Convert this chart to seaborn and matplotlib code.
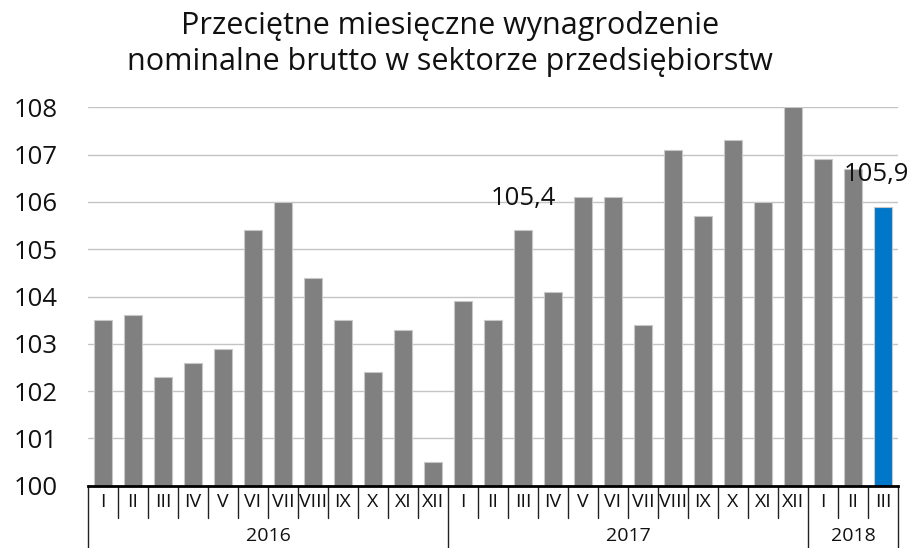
import matplotlib
matplotlib.use("Agg")
import matplotlib.pyplot as plt
import matplotlib.transforms as mtransforms
import seaborn as sns
import pandas as pd

years = ["2016", "2017", "2018"]
months_per_year = [12, 12, 3]
month_labels = ["I", "II", "III", "IV", "V", "VI", "VII", "VIII", "IX", "X", "XI", "XII",
                "I", "II", "III", "IV", "V", "VI", "VII", "VIII", "IX", "X", "XI", "XII",
                "I", "II", "III"]
values = [103.5, 103.6, 102.3, 102.6, 102.9, 105.4, 106.0, 104.4, 103.5, 102.4, 103.3, 100.5,
          103.9, 103.5, 105.4, 104.1, 106.1, 106.1, 103.4, 107.1, 105.7, 107.3, 106.0, 108.0,
          106.9, 106.7, 105.9]
annotated = {14: "105,4", 26: "105,9"}
title = "Przeciętne miesięczne wynagrodzenie\nnominalne brutto w sektorze przedsiębiorstw"

year_of = []
for y, n in zip(years, months_per_year):
    year_of += [y] * n
keys = [f"{y}-{m}" for y, m in zip(year_of, month_labels)]
colors = ["#808080"] * (len(values) - 1) + ["#0077C8"]
df = pd.DataFrame({"key": keys, "value": values})

sns.set_theme(style="white")
plt.rcParams["font.family"] = ["Open Sans", "DejaVu Sans"]

fig = plt.figure(figsize=(9.12, 5.48), dpi=100)
ax = fig.add_axes([88 / 912, 1 - 485.7 / 548, (898 - 88) / 912, (485.7 - 107.3) / 548])

sns.barplot(data=df, x="key", y="value", hue="key", palette=colors, legend=False,
            order=keys, width=0.63, ax=ax, edgecolor="#c8c8c8", linewidth=0.8,
            saturation=1, zorder=3)

ax.set_ylim(100, 108)
ax.set_xlim(-0.5, len(values) - 0.5)
ax.set_yticks(range(100, 109))
ax.yaxis.grid(True, color="#c4c4c4", linewidth=1.0, zorder=0)
ax.set_axisbelow(True)
ax.tick_params(axis="y", length=0, pad=22, labelsize=18.5, labelcolor="#111111")
ax.set_xticks([])
ax.set_xlabel("")
ax.set_ylabel("")
for s in ["top", "right", "left"]:
    ax.spines[s].set_visible(False)
ax.spines["bottom"].set_color("black")
ax.spines["bottom"].set_linewidth(2)
ax.spines["bottom"].set_zorder(5)

# annotations
shifts = {14: 0, 26: -5}
for i, txt in annotated.items():
    ax.annotate(txt, (i, values[i]), xytext=(shifts[i], 14), textcoords="offset points",
                ha="center", va="bottom", fontsize=18.5, color="#111111",
                annotation_clip=False, zorder=6)

# multi-level x axis
trans = mtransforms.blended_transform_factory(ax.transData, ax.transAxes)
ah = (485.7 - 107.3)
m_low = -(518 - 485.7) / ah
y_low = -(548 - 485.7) / ah - 0.02
for i, lab in enumerate(month_labels):
    ax.text(i, -(502 - 485.7) / ah, lab, transform=trans, ha="center", va="center",
            fontsize=14, color="#111111")
bounds = [-0.5]
pos = -0.5
for n in months_per_year:
    pos += n
    bounds.append(pos)
for b in [x - 0.5 for x in range(len(values) + 1)]:
    if b in bounds:
        ax.plot([b, b], [0, y_low], transform=trans, color="#222222", linewidth=1,
                clip_on=False)
    else:
        ax.plot([b, b], [0, m_low], transform=trans, color="#222222", linewidth=1,
                clip_on=False)
for y, a, b in zip(years, bounds[:-1], bounds[1:]):
    ax.text((a + b) / 2, -(536 - 485.7) / ah, y, transform=trans, ha="center",
            va="center", fontsize=14, color="#111111")

fig.text(450 / 912, 1 - 44 / 548, title, ha="center", va="center", fontsize=22,
         color="#111111", linespacing=1.3)

fig.savefig("out.png", dpi=100)
